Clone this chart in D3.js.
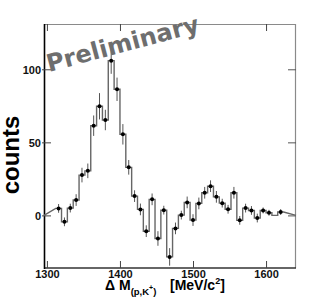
<!DOCTYPE html>
<html>
<head>
<meta charset="utf-8">
<script src="https://cdn.jsdelivr.net/npm/d3@7"></script>
<style>
  body { margin: 0; background: #fff; }
  svg { display: block; }
</style>
</head>
<body>
<div class="chart"></div>
<script>
const WIDTH = 327;
const HEIGHT = 307;
const BIN_WIDTH = 8;

// bin centres [MeV/c2], counts and errors
const binCentres = [1316, 1324, 1332, 1340, 1348, 1356, 1364, 1372, 1380, 1388,
  1396, 1404, 1412, 1420, 1428, 1436, 1444, 1452, 1460, 1468,
  1476, 1484, 1492, 1500, 1508, 1516, 1524, 1532, 1540, 1548,
  1556, 1564, 1572, 1580, 1588, 1596, 1604, 1612, 1620];
const counts = [4.8, -4.4, 5, 10.5, 27.6, 30.5, 61.4, 74.7, 65.3, 105.9,
  86.3, 55.5, 32.9, 13.2, 4.1, -10.8, 11, -15.8, 3.6, -28.4,
  -8.9, 0.2, 8.9, -3.2, 8.2, 15.5, 20, 12.7, 8.4, 4.2,
  15.5, -3.4, 5, 3.4, -1.8, 3.4, 1.8, 0, 2.3];
const errors = [3, 3, 3, 4, 5, 5, 7, 9, 7, 9,
  8, 7, 5, 4, 4, 4, 4, 5, 3, 6,
  4, 3, 4, 4, 4, 4, 4, 4, 3, 3,
  4, 3, 3, 3, 3, 2, 2, null, 2];
const xTicks = [1300, 1400, 1500, 1600];
const yTicks = [0, 50, 100];

const frame = { left: 44, right: 296, top: 24, bottom: 268 };

const x = d3.scaleLinear().domain([1296, 1641]).range([frame.left, frame.right]);
const y = d3.scaleLinear().domain([-36, 131]).range([frame.bottom, frame.top]);

const svg = d3.select('.chart')
  .append('svg')
  .attr('width', WIDTH)
  .attr('height', HEIGHT)
  .style('font-family', '"Liberation Sans", Arial, sans-serif')
  .style('font-weight', 'bold');

svg.append('rect')
  .attr('width', WIDTH)
  .attr('height', HEIGHT)
  .attr('fill', '#fff');

// frame: top / right grey, bottom dark, left black
svg.append('line')
  .attr('x1', frame.left).attr('x2', frame.right)
  .attr('y1', frame.top + 0.5).attr('y2', frame.top + 0.5)
  .attr('stroke', '#8a8a8a').attr('stroke-width', 1.2);
svg.append('line')
  .attr('x1', frame.right - 0.5).attr('x2', frame.right - 0.5)
  .attr('y1', frame.top).attr('y2', frame.bottom)
  .attr('stroke', '#8a8a8a').attr('stroke-width', 1.2);
svg.append('line')
  .attr('x1', frame.left).attr('x2', frame.right)
  .attr('y1', frame.bottom).attr('y2', frame.bottom)
  .attr('stroke', '#333').attr('stroke-width', 1.5);
svg.append('line')
  .attr('x1', frame.left + 0.5).attr('x2', frame.left + 0.5)
  .attr('y1', frame.top).attr('y2', frame.bottom + 1)
  .attr('stroke', '#000').attr('stroke-width', 1.6);

// x ticks, bottom and top, pointing inward
const xAxisBottom = d3.axisBottom(x).tickValues(xTicks).tickFormat(d3.format('d'))
  .tickSize(0).tickPadding(0);
const xb = svg.append('g')
  .attr('transform', `translate(0,${frame.bottom})`)
  .call(xAxisBottom);
xb.select('.domain').remove();
xb.selectAll('.tick text')
  .attr('y', 10)
  .attr('dy', 0)
  .attr('fill', '#111')
  .style('font-size', '11px')
  .style('font-family', '"Liberation Sans", Arial, sans-serif')
  .style('font-weight', 'bold');
xb.selectAll('.tick').append('line')
  .attr('y1', 0).attr('y2', -7)
  .attr('stroke', '#444').attr('stroke-width', 1);

svg.append('g').selectAll('line')
  .data(xTicks)
  .enter().append('line')
  .attr('x1', (d) => x(d) + 0.5).attr('x2', (d) => x(d) + 0.5)
  .attr('y1', frame.top).attr('y2', frame.top + 7)
  .attr('stroke', '#444').attr('stroke-width', 1);

// y ticks, left and right
const yAxisLeft = d3.axisLeft(y).tickValues(yTicks).tickSize(0).tickPadding(0);
const yl = svg.append('g')
  .attr('transform', `translate(${frame.left},0)`)
  .call(yAxisLeft);
yl.select('.domain').remove();
yl.selectAll('.tick text')
  .attr('x', -3)
  .attr('dy', '0.36em')
  .attr('fill', '#111')
  .style('font-size', '11px')
  .style('font-family', '"Liberation Sans", Arial, sans-serif')
  .style('font-weight', 'bold');
yl.selectAll('.tick').append('line')
  .attr('x1', -2).attr('x2', 7)
  .attr('stroke', '#444').attr('stroke-width', 1);

svg.append('g').selectAll('line')
  .data(yTicks)
  .enter().append('line')
  .attr('x1', frame.right - 8).attr('x2', frame.right)
  .attr('y1', (d) => y(d) + 0.5).attr('y2', (d) => y(d) + 0.5)
  .attr('stroke', '#555').attr('stroke-width', 1);

// histogram steps
const bins = binCentres.map((c, i) => ({
  lo: c - BIN_WIDTH / 2, hi: c + BIN_WIDTH / 2, centre: c, value: counts[i], err: errors[i],
}));
const stepPoints = [[x.domain()[0], 0]];
bins.forEach((b) => {
  stepPoints.push([b.lo, b.value], [b.hi, b.value]);
});
stepPoints.push([x.domain()[1], 0]);

svg.append('path')
  .datum(stepPoints)
  .attr('d', d3.line().x((d) => x(d[0])).y((d) => y(d[1])))
  .attr('fill', 'none')
  .attr('stroke', '#666')
  .attr('stroke-width', 1.4);

// error bars and markers
const marked = bins.filter((b) => b.err !== null);
svg.append('g').selectAll('line')
  .data(marked)
  .enter().append('line')
  .attr('x1', (d) => x(d.centre)).attr('x2', (d) => x(d.centre))
  .attr('y1', (d) => y(d.value + d.err)).attr('y2', (d) => y(d.value - d.err))
  .attr('stroke', '#555').attr('stroke-width', 1);

svg.append('g').selectAll('circle')
  .data(marked)
  .enter().append('circle')
  .attr('cx', (d) => x(d.centre))
  .attr('cy', (d) => y(d.value))
  .attr('r', 2)
  .attr('fill', '#000');

// axis titles
svg.append('text')
  .attr('transform', 'translate(19,155) rotate(-90)')
  .attr('text-anchor', 'middle')
  .style('font-size', '24px')
  .attr('fill', '#000')
  .text('counts');

const xTitle = svg.append('text')
  .attr('x', 105)
  .attr('y', 290)
  .style('font-size', '14px')
  .attr('fill', '#000');
xTitle.append('tspan').text('Δ M');
xTitle.append('tspan').attr('dy', 5).style('font-size', '9.5px').text('(p,K');
xTitle.append('tspan').attr('dy', -5).style('font-size', '7px').text('+');
xTitle.append('tspan').attr('dy', 5).style('font-size', '9.5px').text(')');
xTitle.append('tspan').attr('x', 170).attr('dy', -5).text('[MeV/c');
xTitle.append('tspan').attr('dy', -6).style('font-size', '9px').text('2');
xTitle.append('tspan').attr('dy', 6).text(']');

// watermark
svg.append('text')
  .attr('transform', 'translate(49,72) rotate(-15)')
  .attr('textLength', 157)
  .attr('lengthAdjust', 'spacing')
  .style('font-family', '"DejaVu Sans", Verdana, sans-serif')
  .style('font-size', '24px')
  .style('font-weight', 'bold')
  .attr('fill', '#6e6e6e')
  .text('Preliminary');
</script>
</body>
</html>
